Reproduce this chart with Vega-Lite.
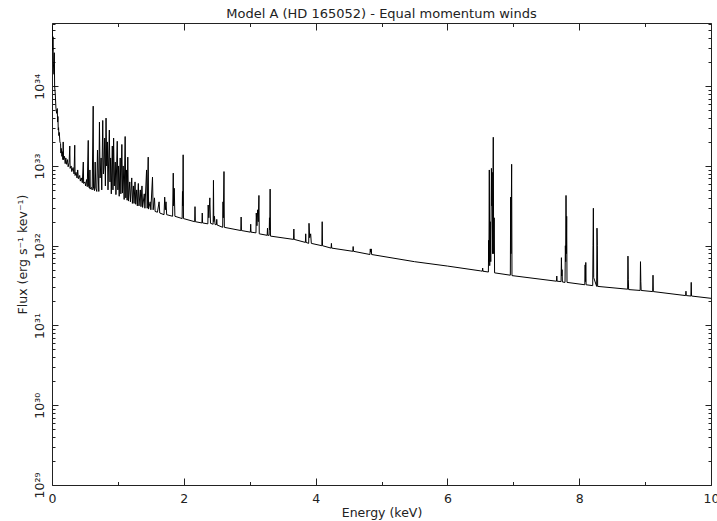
{
"$schema":"https://vega.github.io/schema/vega-lite/v6.json",
"width":659,"height":462,
"autosize":{"type":"none"},
"padding":{"left":52,"top":23,"right":6,"bottom":36},
"background":"white",
"config":{"view":{"stroke":"#222","strokeWidth":1},"font":"DejaVu Sans","axis":{"grid":false,"domain":false,"tickColor":"#222","tickWidth":1,"labelColor":"#222","titleColor":"#222","labelFontSize":12.5,"titleFontSize":12.5,"titleFontWeight":"normal","labelFont":"DejaVu Sans","titleFont":"DejaVu Sans"}},
"title":{"text":"Model A (HD 165052) - Equal momentum winds","fontSize":13,"fontWeight":"normal","font":"DejaVu Sans","color":"#222","offset":2},
"data":{"values":[
{"E":0.003,"F":5.75e34},{"E":0.01,"F":2.82e34},{"E":0.015,"F":4.17e34},{"E":0.02,"F":2.0e34},{"E":0.03,"F":1.41e34},{"E":0.035,"F":2.63e34},{"E":0.04,"F":1.0e34},{"E":0.05,"F":7.94e33},{"E":0.06,"F":5.25e33},{"E":0.07,"F":4.57e33},{"E":0.08,"F":5.25e33},{"E":0.085,"F":3.55e33},{"E":0.09,"F":4.17e33},{"E":0.095,"F":2.82e33},{"E":0.1,"F":3.02e33},{"E":0.105,"F":2.4e33},{"E":0.11,"F":2.63e33},{"E":0.12,"F":2.0e33},{"E":0.13,"F":1.91e33},{"E":0.135,"F":1.45e33},{"E":0.14,"F":1.66e33},{"E":0.15,"F":1.32e33},{"E":0.16,"F":1.51e33},{"E":0.165,"F":1.2e33},{"E":0.17,"F":2.0e33},{"E":0.175,"F":1.2e33},{"E":0.19,"F":1.32e33},{"E":0.2,"F":1.07e33},{"E":0.21,"F":1.26e33},{"E":0.22,"F":1.05e33},{"E":0.235,"F":1.2e33},{"E":0.245,"F":9.77e32},{"E":0.26,"F":1.1e33},{"E":0.27,"F":1.78e33},{"E":0.275,"F":9.33e32},{"E":0.29,"F":1.0e33},{"E":0.3,"F":8.51e32},{"E":0.32,"F":9.55e32},{"E":0.335,"F":7.94e32},{"E":0.345,"F":1.82e33},{"E":0.35,"F":7.59e32},{"E":0.365,"F":8.32e32},{"E":0.38,"F":7.08e32},{"E":0.39,"F":8.91e32},{"E":0.4,"F":6.92e32},{"E":0.42,"F":7.59e32},{"E":0.43,"F":6.46e32},{"E":0.445,"F":7.08e32},{"E":0.46,"F":6.17e32},{"E":0.475,"F":1.12e33},{"E":0.48,"F":6.03e32},{"E":0.5,"F":6.31e32},{"E":0.51,"F":5.62e32},{"E":0.525,"F":6.76e32},{"E":0.535,"F":5.5e32},{"E":0.55,"F":2.09e33},{"E":0.555,"F":5.5e32},{"E":0.57,"F":5.25e32},{"E":0.575,"F":8.91e32},{"E":0.58,"F":5.13e32},{"E":0.6,"F":5.37e32},{"E":0.61,"F":5.01e32},{"E":0.625,"F":5.62e33},{"E":0.63,"F":5.25e32},{"E":0.645,"F":4.9e32},{"E":0.655,"F":1.12e33},{"E":0.665,"F":5.25e32},{"E":0.68,"F":4.79e32},{"E":0.69,"F":1.58e33},{"E":0.7,"F":7.94e32},{"E":0.71,"F":4.79e32},{"E":0.72,"F":3.55e33},{"E":0.73,"F":7.08e32},{"E":0.745,"F":1.26e33},{"E":0.755,"F":5.01e32},{"E":0.77,"F":3.72e33},{"E":0.78,"F":7.94e32},{"E":0.79,"F":1.0e33},{"E":0.8,"F":2.24e33},{"E":0.81,"F":5.62e32},{"E":0.82,"F":3.98e33},{"E":0.83,"F":1.0e33},{"E":0.84,"F":2.0e33},{"E":0.85,"F":5.01e32},{"E":0.87,"F":2.82e33},{"E":0.88,"F":6.31e32},{"E":0.89,"F":1.26e33},{"E":0.9,"F":4.47e32},{"E":0.915,"F":1.78e33},{"E":0.925,"F":5.01e32},{"E":0.935,"F":2.24e33},{"E":0.945,"F":5.62e32},{"E":0.96,"F":1.12e33},{"E":0.97,"F":4.37e32},{"E":0.99,"F":2.04e33},{"E":1.0,"F":5.01e32},{"E":1.01,"F":1.0e33},{"E":1.02,"F":4.17e32},{"E":1.035,"F":1.26e33},{"E":1.045,"F":4.47e32},{"E":1.06,"F":1.86e33},{"E":1.07,"F":4.57e32},{"E":1.08,"F":1.0e33},{"E":1.095,"F":3.8e32},{"E":1.11,"F":2.34e33},{"E":1.12,"F":3.98e32},{"E":1.13,"F":8.91e32},{"E":1.14,"F":3.72e32},{"E":1.15,"F":1.29e33},{"E":1.16,"F":3.63e32},{"E":1.18,"F":6.31e32},{"E":1.19,"F":3.55e32},{"E":1.21,"F":7.08e32},{"E":1.22,"F":3.39e32},{"E":1.235,"F":5.62e32},{"E":1.245,"F":3.39e32},{"E":1.26,"F":6.31e32},{"E":1.27,"F":3.31e32},{"E":1.285,"F":5.01e32},{"E":1.295,"F":3.16e32},{"E":1.31,"F":6.03e32},{"E":1.32,"F":3.16e32},{"E":1.34,"F":5.01e32},{"E":1.35,"F":3.09e32},{"E":1.365,"F":5.62e32},{"E":1.375,"F":3.02e32},{"E":1.4,"F":4.47e32},{"E":1.41,"F":2.95e32},{"E":1.435,"F":8.91e32},{"E":1.445,"F":2.95e32},{"E":1.46,"F":1.29e33},{"E":1.465,"F":2.88e32},{"E":1.49,"F":3.55e32},{"E":1.5,"F":2.82e32},{"E":1.525,"F":7.24e32},{"E":1.535,"F":2.82e32},{"E":1.555,"F":3.98e32},{"E":1.565,"F":2.69e32},{"E":1.6,"F":2.63e32},{"E":1.625,"F":3.55e32},{"E":1.635,"F":2.57e32},{"E":1.7,"F":2.45e32},{"E":1.71,"F":4.07e32},{"E":1.72,"F":2.82e32},{"E":1.73,"F":3.55e32},{"E":1.74,"F":2.45e32},{"E":1.83,"F":2.34e32},{"E":1.84,"F":8.13e32},{"E":1.845,"F":3.16e32},{"E":1.855,"F":5.25e32},{"E":1.865,"F":2.34e32},{"E":1.975,"F":2.19e32},{"E":1.98,"F":4.79e32},{"E":1.985,"F":3.16e32},{"E":1.99,"F":1.38e33},{"E":1.995,"F":2.19e32},{"E":2.165,"F":2.0e32},{"E":2.17,"F":3.09e32},{"E":2.175,"F":2.0e32},{"E":2.275,"F":1.93e32},{"E":2.28,"F":2.57e32},{"E":2.285,"F":1.93e32},{"E":2.365,"F":1.88e32},{"E":2.37,"F":3.24e32},{"E":2.38,"F":2.24e32},{"E":2.395,"F":3.98e32},{"E":2.405,"F":1.91e32},{"E":2.445,"F":1.86e32},{"E":2.45,"F":6.61e32},{"E":2.455,"F":2.0e32},{"E":2.465,"F":2.34e32},{"E":2.475,"F":1.84e32},{"E":2.495,"F":1.84e32},{"E":2.5,"F":2.14e32},{"E":2.505,"F":1.82e32},{"E":2.59,"F":1.7e32},{"E":2.595,"F":3.55e32},{"E":2.6,"F":2.24e32},{"E":2.61,"F":8.51e32},{"E":2.615,"F":1.7e32},{"E":2.865,"F":1.55e32},{"E":2.87,"F":2.29e32},{"E":2.875,"F":1.55e32},{"E":3.01,"F":1.48e32},{"E":3.015,"F":1.86e32},{"E":3.02,"F":1.48e32},{"E":3.095,"F":1.45e32},{"E":3.1,"F":2.57e32},{"E":3.11,"F":1.78e32},{"E":3.12,"F":2.82e32},{"E":3.13,"F":2.0e32},{"E":3.14,"F":4.27e32},{"E":3.145,"F":1.41e32},{"E":3.265,"F":1.35e32},{"E":3.27,"F":1.66e32},{"E":3.275,"F":1.35e32},{"E":3.295,"F":1.35e32},{"E":3.3,"F":2.24e32},{"E":3.305,"F":1.58e32},{"E":3.31,"F":5.13e32},{"E":3.315,"F":1.32e32},{"E":3.665,"F":1.2e32},{"E":3.67,"F":1.62e32},{"E":3.675,"F":1.2e32},{"E":3.845,"F":1.1e32},{"E":3.85,"F":1.41e32},{"E":3.855,"F":1.1e32},{"E":3.895,"F":1.07e32},{"E":3.9,"F":1.91e32},{"E":3.91,"F":1.26e32},{"E":3.925,"F":1.41e32},{"E":3.935,"F":1.07e32},{"E":4.095,"F":1.0e32},{"E":4.1,"F":2.0e32},{"E":4.105,"F":1.0e32},{"E":4.235,"F":9.33e31},{"E":4.24,"F":1.07e32},{"E":4.245,"F":9.33e31},{"E":4.565,"F":8.51e31},{"E":4.57,"F":9.77e31},{"E":4.575,"F":8.51e31},{"E":4.825,"F":7.76e31},{"E":4.83,"F":9.12e31},{"E":4.835,"F":8.32e31},{"E":4.845,"F":9.12e31},{"E":4.85,"F":7.76e31},{"E":5.5,"F":6.31e31},{"E":6.0,"F":5.56e31},{"E":6.5,"F":4.84e31},{"E":6.53,"F":4.79e31},{"E":6.535,"F":5.25e31},{"E":6.54,"F":4.79e31},{"E":6.622,"F":4.68e31},{"E":6.626,"F":1.17e32},{"E":6.63,"F":6.31e31},{"E":6.636,"F":8.91e32},{"E":6.642,"F":5.62e31},{"E":6.65,"F":2.0e32},{"E":6.658,"F":6.31e31},{"E":6.668,"F":9.33e32},{"E":6.674,"F":3.16e32},{"E":6.68,"F":8.32e32},{"E":6.686,"F":7.94e31},{"E":6.696,"F":2.29e33},{"E":6.702,"F":7.94e31},{"E":6.71,"F":2.24e32},{"E":6.716,"F":4.57e31},{"E":6.955,"F":4.27e31},{"E":6.96,"F":4.07e32},{"E":6.965,"F":7.94e31},{"E":6.975,"F":1.05e33},{"E":6.98,"F":4.22e31},{"E":7.655,"F":3.59e31},{"E":7.66,"F":4.17e31},{"E":7.665,"F":3.59e31},{"E":7.725,"F":3.55e31},{"E":7.73,"F":7.08e31},{"E":7.735,"F":4.17e31},{"E":7.74,"F":5.01e31},{"E":7.745,"F":3.51e31},{"E":7.785,"F":3.47e31},{"E":7.79,"F":1.0e32},{"E":7.795,"F":6.31e31},{"E":7.8,"F":4.27e32},{"E":7.805,"F":7.94e31},{"E":7.81,"F":2.34e32},{"E":7.815,"F":3.47e31},{"E":8.085,"F":3.24e31},{"E":8.09,"F":5.75e31},{"E":8.095,"F":3.55e31},{"E":8.1,"F":6.17e31},{"E":8.105,"F":3.24e31},{"E":8.205,"F":3.16e31},{"E":8.21,"F":1.0e32},{"E":8.215,"F":2.95e32},{"E":8.22,"F":3.98e31},{"E":8.265,"F":3.09e31},{"E":8.27,"F":1.66e32},{"E":8.275,"F":1.0e32},{"E":8.28,"F":3.09e31},{"E":8.735,"F":2.85e31},{"E":8.74,"F":7.41e31},{"E":8.745,"F":3.8e31},{"E":8.75,"F":2.82e31},{"E":8.925,"F":2.75e31},{"E":8.93,"F":6.31e31},{"E":8.935,"F":3.55e31},{"E":8.94,"F":2.75e31},{"E":9.115,"F":2.66e31},{"E":9.12,"F":4.27e31},{"E":9.125,"F":2.66e31},{"E":9.615,"F":2.37e31},{"E":9.62,"F":2.69e31},{"E":9.625,"F":2.37e31},{"E":9.695,"F":2.34e31},{"E":9.7,"F":3.47e31},{"E":9.705,"F":2.34e31},{"E":10.0,"F":2.19e31}
]},
"layer":[
{"mark":{"type":"line","color":"black","strokeWidth":1,"clip":true},
 "encoding":{
  "x":{"field":"E","type":"quantitative","scale":{"domain":[0,10],"nice":false,"zero":false},
   "axis":{"orient":"bottom","values":[0,2,4,6,8,10],"ticks":false,"labelFlush":false,"labelPadding":7,"format":"d","title":"Energy (keV)","titlePadding":2}},
  "y":{"field":"F","type":"quantitative","scale":{"type":"log","domain":[1e29,6.2e34],"nice":false},
   "axis":{"orient":"left","values":[1e29,1e30,1e31,1e32,1e33,1e34],"ticks":false,"labelFlush":false,"labelAngle":270,"labelAlign":"center","labelBaseline":"alphabetic","labelPadding":9,"labelExpr":"['10²⁹','10³⁰','10³¹','10³²','10³³','10³⁴'][round(log(datum.value)/LN10)-29]","title":"Flux (erg s⁻¹ kev⁻¹)","titlePadding":4}}
 }},
{"mark":{"type":"line","strokeOpacity":0},
 "encoding":{
  "x":{"field":"E","type":"quantitative","scale":{"domain":[0,10],"nice":false,"zero":false},
   "axis":{"orient":"bottom","values":[0,2,4,6,8,10],"labels":false,"tickSize":-7,"title":null}},
  "y":{"field":"F","type":"quantitative","scale":{"type":"log","domain":[1e29,6.2e34],"nice":false},
   "axis":{"orient":"left","values":[1e29,1e30,1e31,1e32,1e33,1e34],"labels":false,"tickSize":-6,"title":null}}
 }},
{"mark":{"type":"line","strokeOpacity":0},
 "encoding":{
  "x":{"field":"E","type":"quantitative","scale":{"domain":[0,10],"nice":false,"zero":false},
   "axis":{"orient":"bottom","values":[1,3,5,7,9],"labels":false,"tickSize":-3.5,"title":null}},
  "y":{"field":"F","type":"quantitative","scale":{"type":"log","domain":[1e29,6.2e34],"nice":false},
   "axis":{"orient":"left","values":[2e29,3e29,4e29,5e29,6e29,7e29,8e29,9e29,2e30,3e30,4e30,5e30,6e30,7e30,8e30,9e30,2e31,3e31,4e31,5e31,6e31,7e31,8e31,9e31,2e32,3e32,4e32,5e32,6e32,7e32,8e32,9e32,2e33,3e33,4e33,5e33,6e33,7e33,8e33,9e33,2e34,3e34,4e34,5e34,6e34],"labels":false,"tickSize":-3,"title":null}}
 }},
{"mark":{"type":"line","strokeOpacity":0},
 "encoding":{
  "x":{"field":"E","type":"quantitative","scale":{"domain":[0,10],"nice":false,"zero":false},
   "axis":{"orient":"top","values":[0,2,4,6,8,10],"labels":false,"tickSize":-7,"title":null}},
  "y":{"field":"F","type":"quantitative","scale":{"type":"log","domain":[1e29,6.2e34],"nice":false},
   "axis":{"orient":"right","values":[1e29,1e30,1e31,1e32,1e33,1e34],"labels":false,"tickSize":-6,"title":null}}
 }},
{"mark":{"type":"line","strokeOpacity":0},
 "encoding":{
  "x":{"field":"E","type":"quantitative","scale":{"domain":[0,10],"nice":false,"zero":false},
   "axis":{"orient":"top","values":[1,3,5,7,9],"labels":false,"tickSize":-3.5,"title":null}},
  "y":{"field":"F","type":"quantitative","scale":{"type":"log","domain":[1e29,6.2e34],"nice":false},
   "axis":{"orient":"right","values":[2e29,3e29,4e29,5e29,6e29,7e29,8e29,9e29,2e30,3e30,4e30,5e30,6e30,7e30,8e30,9e30,2e31,3e31,4e31,5e31,6e31,7e31,8e31,9e31,2e32,3e32,4e32,5e32,6e32,7e32,8e32,9e32,2e33,3e33,4e33,5e33,6e33,7e33,8e33,9e33,2e34,3e34,4e34,5e34,6e34],"labels":false,"tickSize":-3,"title":null}}
 }}
],
"resolve":{"axis":{"x":"independent","y":"independent"}}
}
